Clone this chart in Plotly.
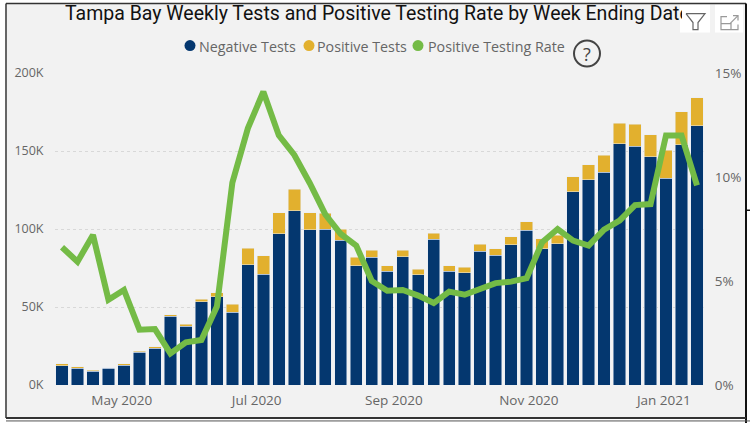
import pandas as pd
import plotly.graph_objects as go

week_ending = pd.date_range('2020-04-04', periods=42, freq='7D')

negative_k = [12.2, 10.9, 8.8, 10.9, 12.6, 21.0, 23.7, 44.0, 37.6, 53.4, 56.6, 46.6, 77.0, 71.0,
              97.0, 111.7, 99.6, 100.0, 92.7, 76.3, 81.8, 72.9, 82.3, 70.7, 93.4, 72.9, 72.0, 85.9,
              83.1, 90.0, 99.1, 87.2, 90.4, 123.9, 131.6, 136.3, 154.5, 153.0, 146.4, 132.5, 154.0, 166.2]
total_k = [13.5, 11.8, 9.6, 11.1, 13.5, 21.6, 24.6, 45.0, 38.9, 55.0, 59.2, 51.7, 87.6, 82.7,
           110.3, 125.6, 110.3, 110.0, 100.0, 81.8, 86.5, 76.5, 86.3, 74.1, 97.4, 76.5, 75.4, 90.2,
           87.2, 94.9, 104.7, 93.8, 96.0, 133.5, 141.2, 147.4, 167.9, 167.3, 160.3, 150.6, 175.2, 184.2]
rate_pct = [6.62, 5.93, 7.21, 4.10, 4.57, 2.66, 2.69, 1.52, 2.05, 2.16, 3.77, 9.73, 12.34, 14.10,
            12.00, 11.06, 9.70, 8.20, 7.26, 6.70, 5.00, 4.53, 4.57, 4.30, 3.94, 4.49, 4.34, 4.65,
            4.90, 4.97, 5.14, 6.86, 7.50, 6.94, 6.70, 7.47, 7.90, 8.65, 8.70, 12.00, 12.00, 9.60]

negative = [v * 1000 for v in negative_k]
positive = [(t - n) * 1000 for t, n in zip(total_k, negative_k)]

left_ticks = [0, 50000, 100000, 150000, 200000]
left_labels = ['0K', '50K', '100K', '150K', '200K']

NAVY = '#04376f'
GOLD = '#e2b02e'
GREEN = '#74bb46'
GREY = '#666666'
PANEL = '#f2f2f2'

# plot area in page pixels, used to place the report chrome around the chart
L, R, T, B = 55, 704, 72.5, 385


def px(x):
    return (x - L) / (R - L)


def py(y):
    return (B - y) / (B - T)


def rect(x0, y0, x1, y1, fill, layer='below'):
    return dict(type='rect', xref='paper', yref='paper', x0=px(x0), x1=px(x1), y0=py(y0), y1=py(y1),
                fillcolor=fill, line_width=0, layer=layer)


def hline(x0, x1, y, color, width):
    return dict(type='line', xref='paper', yref='paper', x0=px(x0), x1=px(x1), y0=py(y), y1=py(y),
                line=dict(color=color, width=width), layer='above')


def vline(x, y0, y1, color, width):
    return dict(type='line', xref='paper', yref='paper', x0=px(x), x1=px(x), y0=py(y0), y1=py(y1),
                line=dict(color=color, width=width), layer='above')


def polyline(points, color, width=1.2):
    path = 'M' + ' L'.join(f'{px(x):.5f},{py(y):.5f}' for x, y in points)
    return dict(type='path', xref='paper', yref='paper', path=path,
                line=dict(color=color, width=width), layer='above')


def dot(cx, cy, r, fill, line_color=None, width=0):
    return dict(type='circle', xref='paper', yref='paper', x0=px(cx - r), x1=px(cx + r),
                y0=py(cy + r), y1=py(cy - r), fillcolor=fill,
                line=dict(color=line_color or fill, width=width), layer='above')


def label(x, y, text, size=14.3, color=GREY, font='Open Sans'):
    return dict(xref='paper', yref='paper', x=px(x), y=py(y), text=text, showarrow=False,
                xanchor='left', yanchor='middle', font=dict(family=font, size=size, color=color))


shapes = [
    rect(6, 3, 745, 418, PANEL),
    rect(680, 4, 710, 32, 'white', 'above'),
    rect(715, 4, 743, 32, 'white', 'above'),
    polyline([(686, 13), (705, 13), (698, 22), (698, 29), (693, 29), (693, 22), (686, 13)], '#666666'),
    polyline([(727, 16), (721, 16), (721, 29), (738, 29), (738, 24)], '#999999'),
    polyline([(721, 23), (731, 23), (731, 29)], '#999999'),
    polyline([(730, 23), (738, 15)], '#999999'),
    polyline([(733, 15), (738, 15), (738, 20)], '#999999'),
    vline(6, 3, 418, '#666666', 2),
    hline(6, 746, 3, '#333333', 1.5),
    vline(746, 3, 423, '#111111', 2),
    hline(6, 746, 418, '#333333', 2),
    hline(6, 750, 421, '#555555', 1),
    hline(746, 750, 210, '#111111', 1.5),
    dot(190, 45, 5.5, NAVY),
    dot(309, 45, 5.5, GOLD),
    dot(418, 45, 5.5, GREEN),
    dot(587, 53, 13, 'rgba(0,0,0,0)', '#444444', 2),
]

annotations = [
    dict(xref='paper', yref='paper', x=px(63), y=py(13), xanchor='left', yanchor='middle', align='left',
         width=617, showarrow=False,
         text='Tampa Bay Weekly Tests and Positive Testing Rate by Week Ending Date',
         font=dict(family='Roboto', size=19.5, color='#111111')),
    label(197, 46, 'Negative Tests'),
    label(315, 46, 'Positive Tests'),
    label(426, 46, 'Positive Testing Rate'),
    dict(xref='paper', yref='paper', x=px(587), y=py(53), text='?', showarrow=False,
         xanchor='center', yanchor='middle',
         font=dict(family='Open Sans', size=18, color='#444444')),
]

fig = go.Figure()
fig.add_trace(go.Bar(x=week_ending, y=negative, name='Negative Tests', marker_color=NAVY))
fig.add_trace(go.Bar(x=week_ending, y=positive, name='Positive Tests', marker_color=GOLD))
fig.add_trace(go.Scatter(x=week_ending, y=rate_pct, name='Positive Testing Rate', yaxis='y2', mode='lines',
                         line=dict(color=GREEN, width=6)))

fig.update_layout(
    width=750, height=423,
    margin=dict(l=L, r=750 - R, t=T, b=423 - B, pad=0, autoexpand=False),
    paper_bgcolor='white', plot_bgcolor='rgba(0,0,0,0)',
    barmode='stack', bargap=0.2, showlegend=False,
    font=dict(family='Open Sans', size=13, color=GREY),
    xaxis=dict(type='date', range=['2020-03-31 20:00', '2021-01-19 04:00'], tick0='2020-05-01', dtick='M2',
               tickformat='%b %Y', showgrid=False, zeroline=False, ticks='outside', ticklen=3,
               tickcolor='rgba(0,0,0,0)', tickfont=dict(size=13.5, color=GREY)),
    yaxis=dict(range=[0, 200000], tickvals=left_ticks, ticktext=left_labels, showgrid=True,
               gridcolor='#d8d8d8', griddash='dot', gridwidth=1, zeroline=False, ticks='outside',
               ticklen=8, tickcolor='rgba(0,0,0,0)', tickfont=dict(size=12.5, color=GREY)),
    yaxis2=dict(range=[0, 15], overlaying='y', side='right', dtick=5, ticksuffix='%', showgrid=False,
                zeroline=False, ticks='outside', ticklen=7, tickcolor='rgba(0,0,0,0)',
                tickfont=dict(size=13.5, color=GREY)),
    shapes=shapes, annotations=annotations,
)

# the page's default body margin and scrollbar would push the figure off the window
fig.write_html('out.html', config={'displayModeBar': False, 'responsive': False},
               post_script='document.body.style.margin = "0"; document.documentElement.style.overflow = "hidden";')
